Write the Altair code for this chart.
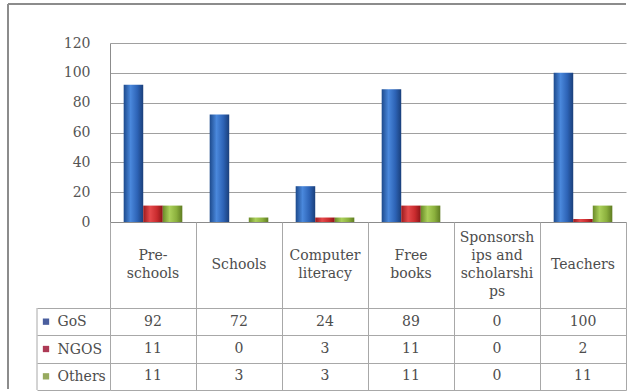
import altair as alt
import pandas as pd

# ---- data ----
categories = ["Pre-schools", "Schools", "Computer literacy", "Free books",
              "Sponsorships and scholarships", "Teachers"]
header_labels = ["Pre-\nschools", "Schools", "Computer\nliteracy", "Free\nbooks",
                 "Sponsorsh\nips and\nscholarshi\nps", "Teachers"]
series = ["GoS", "NGOS", "Others"]
gos = [92, 72, 24, 89, 0, 100]
ngos = [11, 0, 3, 11, 0, 2]
others = [11, 3, 3, 11, 0, 11]
y_ticks = [0, 20, 40, 60, 80, 100, 120]

values = {"GoS": gos, "NGOS": ngos, "Others": others}
rows = []
for s in series:
    for c, v in zip(categories, values[s]):
        rows.append({"category": c, "series": s, "value": v})
df = pd.DataFrame(rows)
header_df = pd.DataFrame({"category": categories, "label": header_labels})
one = pd.DataFrame({"k": [0]})

# ---- styling ----
W = 516
H_TOP = 179
H_HEAD = 86
H_TAB = 82
LH = 18
FONT = "'DejaVu Serif', 'Liberation Serif', 'Times New Roman', serif"
FS = 14
TXT = "#4d4d4d"
GRID = "#a0a0a0"
TABLE_LINE = "#a8a8a8"
BORDER = "#8c8c8c"


def grad(c0, c1, c2, c3):
    return alt.Gradient(
        gradient="linear", x1=0, x2=1, y1=0, y2=0,
        stops=[alt.GradientStop(color=c0, offset=0),
               alt.GradientStop(color=c1, offset=0.35),
               alt.GradientStop(color=c2, offset=0.7),
               alt.GradientStop(color=c3, offset=1)])


fills = {
    "GoS": grad("#1d4a8c", "#4a88dc", "#2d63b6", "#1a3f7a"),
    "NGOS": grad("#9a1a1d", "#e5494b", "#c92b2e", "#8a1517"),
    "Others": grad("#6a8a28", "#abd05a", "#8bb03d", "#5f7c22"),
}
key_colors = ["#4a5e9e", "#ad3a55", "#97aa5f"]

x_band = alt.Scale(domain=categories, paddingInner=0, paddingOuter=0)

# ---- top bar chart ----
bar_layers = []
for s in series:
    bar_layers.append(
        alt.Chart(df).transform_filter(alt.datum.series == s).mark_bar(
            fill=fills[s], strokeWidth=0
        ).encode(
            x=alt.X("category:N", sort=categories, scale=x_band,
                    axis=alt.Axis(labels=False, ticks=False, title=None, grid=False,
                                  domain=True, domainColor=BORDER)),
            xOffset=alt.XOffset("series:N", sort=series,
                                scale=alt.Scale(domain=series, paddingInner=0, paddingOuter=0.7)),
            y=alt.Y("value:Q", scale=alt.Scale(domain=[0, 120], nice=False),
                    axis=alt.Axis(values=y_ticks, title=None, grid=True, gridColor=GRID,
                                  tickSize=0, labelPadding=20, labelFont=FONT,
                                  labelFontSize=FS, labelColor="#555555",
                                  domainColor=BORDER)),
        )
    )

border_v = alt.Chart(one).mark_rule(color=BORDER, strokeWidth=2).encode(
    x=alt.value(-102), y=alt.value(-39), y2=alt.value(346))
border_h = alt.Chart(one).mark_rule(color=BORDER, strokeWidth=2).encode(
    x=alt.value(-102), x2=alt.value(W), y=alt.value(-39))

top = alt.layer(*bar_layers, border_v, border_h).properties(width=W, height=H_TOP)

# ---- header row of the data table (category labels, centred vertically) ----
header = alt.Chart(header_df).transform_calculate(
    nlines="length(split(datum.label, '\\n'))"
).transform_calculate(
    ty=f"{H_HEAD / 2} - (datum.nlines - 1) * {LH / 2}"
).mark_text(
    font=FONT, fontSize=FS, color=TXT, lineBreak="\n", lineHeight=LH, baseline="middle"
).encode(
    x=alt.X("category:N", sort=categories, scale=x_band,
            axis=alt.Axis(tickBand="extent", grid=True, gridColor=TABLE_LINE,
                          labels=False, ticks=False, domain=False, title=None)),
    y=alt.Y("ty:Q", scale=alt.Scale(domain=[0, H_HEAD], reverse=True), axis=None),
    text="label:N",
).properties(width=W, height=H_HEAD)

# ---- data rows ----
y_rows = alt.Y("series:N", sort=series,
               scale=alt.Scale(domain=series, paddingInner=0, paddingOuter=0),
               axis=alt.Axis(tickBand="extent", grid=True, gridColor=TABLE_LINE,
                             ticks=True, tickSize=73, tickColor=TABLE_LINE,
                             labelAlign="left", labelPadding=-20, labelFont=FONT,
                             labelFontSize=FS, labelColor=TXT, domain=False, title=None))

cells = alt.Chart(df).mark_text(font=FONT, fontSize=FS, color=TXT).encode(
    x=alt.X("category:N", sort=categories, scale=x_band,
            axis=alt.Axis(tickBand="extent", grid=True, gridColor=TABLE_LINE,
                          labels=False, ticks=False, domain=False, title=None)),
    y=y_rows,
    text="value:Q",
)
keys = alt.Chart(pd.DataFrame({"series": series})).mark_point(
    shape="square", filled=True, size=40, opacity=1
).encode(
    x=alt.value(-64),
    y=alt.Y("series:N", sort=series),
    color=alt.Color("series:N", scale=alt.Scale(domain=series, range=key_colors), legend=None),
)
left_line = alt.Chart(one).mark_rule(color=TABLE_LINE, strokeWidth=1).encode(
    x=alt.value(-73), y=alt.value(0), y2=alt.value(H_TAB))

table = alt.layer(cells, keys, left_line).properties(width=W, height=H_TAB)

chart = alt.vconcat(top, header, table, spacing=0, bounds="flush").properties(
    padding={"left": 7, "top": 3, "right": 0, "bottom": 0},
    background="white",
).configure_view(stroke=None)

chart.save("out.html", embed_options={"renderer": "svg", "actions": False})
